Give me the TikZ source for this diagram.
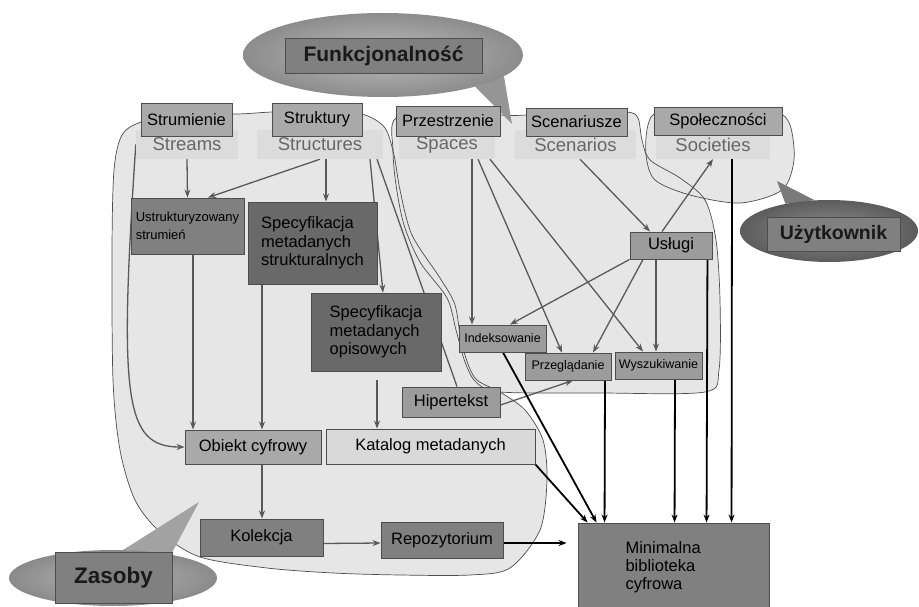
\documentclass[tikz,border=0pt]{standalone}
\usepackage{fontspec}
\setmainfont{Liberation Sans}
\usepackage{xcolor}
\definecolor{regionfill}{HTML}{E6E6E6}
\definecolor{tagfill}{HTML}{DCDCDC}
\definecolor{tagtext}{HTML}{666666}
\definecolor{edge}{HTML}{4D4D4D}
\definecolor{boxlight}{HTML}{A9A9A9}
\definecolor{boxsoft}{HTML}{9C9C9C}
\definecolor{boxmid}{HTML}{808080}
\definecolor{boxdark}{HTML}{696969}
\definecolor{boxpale}{HTML}{D9D9D9}
\definecolor{linkgray}{HTML}{595959}
\definecolor{funkin}{HTML}{BDBDBD}
\definecolor{funkout}{HTML}{8C8C8C}
\definecolor{funktail}{HTML}{959595}
\definecolor{uzytin}{HTML}{8E8E8E}
\definecolor{uzytout}{HTML}{5C5C5C}
\definecolor{uzyttail}{HTML}{7A7A7A}
\definecolor{zasin}{HTML}{B5B5B5}
\definecolor{zasout}{HTML}{8A8A8A}
\definecolor{zastail}{HTML}{A2A2A2}
\usepackage{tikz}
\usetikzlibrary{arrows.meta, shapes.geometric, backgrounds}

\begin{document}
\begin{tikzpicture}[x=1pt, y=-1pt, >={Stealth[length=8pt, width=6pt]},
    font=\fontsize{16.5}{18.5}\selectfont,
    box/.style={draw=edge, line width=0.9pt, inner sep=0pt, align=left},
    svc/.style={box, fill=boxsoft, minimum height=27pt, font=\fontsize{12.5}{15}\selectfont},
    tag/.style={fill=tagfill, text=tagtext, inner sep=0pt, minimum height=29pt,
                font=\fontsize{18.5}{20}\selectfont},
    blob/.style={draw=edge, line width=0.7pt},
    link/.style={->, draw=linkgray, line width=1.3pt},
    feed/.style={->, black, line width=1.8pt},
    bubble/.style={ellipse, inner sep=0pt},
    title/.style={box, fill=boxmid, text=black!90, font=\fontsize{21}{24}\bfseries\selectfont}]

  \useasboundingbox (0,0) rectangle (919,607);

  \node[tag, minimum width=102pt] (streams) at (187,144.5) {Streams};
  \node[tag, minimum width=126pt] (structs) at (320,144.5) {Structures};
  \node[tag, minimum width=96pt] (spaces) at (447,144.5) {Spaces};
  \node[tag, minimum width=121pt] (scens) at (575.5,144.5) {Scenarios};
  \node[tag, minimum width=114pt] (socs) at (713,144.5) {Societies};

  \node[box, fill=boxlight, minimum width=91pt, minimum height=33pt] (strum) at (186.5,119.5) {Strumienie};
  \node[box, fill=boxlight, minimum width=90pt, minimum height=33pt] (strukt) at (317,119.5) {Struktury};
  \node[box, fill=boxlight, minimum width=104pt, minimum height=30pt] (przes) at (448,121) {Przestrzenie};
  \node[box, fill=boxlight, minimum width=101pt, minimum height=28pt] (scen) at (576.5,122) {Scenariusze};
  \node[box, fill=boxlight, minimum width=128pt, minimum height=28pt] (spol) at (718,121) {Społeczności};

  \node[box, fill=boxmid, minimum width=113pt, minimum height=56pt,
        font=\fontsize{13}{18}\selectfont] (ustr) at (187.5,226) {Ustrukturyzowany\\strumień};
  \node[box, fill=boxdark, minimum width=129pt, minimum height=82pt] (specs) at (312.5,243)
        {Specyfikacja\\metadanych\\strukturalnych};
  \node[box, fill=boxdark, minimum width=130pt, minimum height=78pt] (speco) at (376,332)
        {Specyfikacja\\metadanych\\opisowych};
  \node[box, fill=boxsoft, minimum width=98pt, minimum height=30pt] (hiper) at (451,402) {Hipertekst};
  \node[box, fill=boxlight, minimum width=136pt, minimum height=34pt] (obiekt) at (253,447) {Obiekt cyfrowy};
  \node[box, fill=boxpale, minimum width=209pt, minimum height=35pt] (katalog) at (430.5,446.5) {Katalog metadanych};
  \node[box, fill=boxmid, minimum width=123pt, minimum height=37pt] (kolek) at (261.5,537.5) {Kolekcja};
  \node[box, fill=boxmid, minimum width=122pt, minimum height=36pt] (repo) at (442,540) {Repozytorium};

  \node[box, fill=boxsoft, minimum width=82pt, minimum height=27pt] (uslugi) at (671,245.5) {Usługi};
  \node[svc, minimum width=87pt] (indeks) at (502.5,338.5) {Indeksowanie};
  \node[svc, minimum width=86pt] (przeg) at (568,366.5) {Przeglądanie};
  \node[svc, minimum width=87pt] (wyszuk) at (658.5,365.5) {Wyszukiwanie};

  \node[box, fill=boxmid, minimum width=191pt, minimum height=89pt, text width=96pt,
        font=\fontsize{16.5}{18}\selectfont] (minbib) at (673.5,567.5) {Minimalna\\biblioteka\\cyfrowa};

  % callouts
  \node[bubble, shade, inner color=funkin, outer color=funkout,
        minimum width=280pt, minimum height=84pt] (funkE) at (383,55) {};
  \node[title, minimum width=197pt, minimum height=35pt] (funk) at (383.5,55.5) {Funkcjonalność};
  \coordinate (funktip) at (512,124);

  \node[bubble, shade, inner color=uzytin, outer color=uzytout,
        minimum width=178pt, minimum height=62pt] (uzytE) at (829,231) {};
  \node[title, minimum width=133pt, minimum height=34pt, font=\fontsize{19.5}{22}\bfseries\selectfont]
        (uzyt) at (833.5,234) {Użytkownik};
  \coordinate (uzyttip) at (777,181);

  \node[bubble, shade, inner color=zasin, outer color=zasout,
        minimum width=208pt, minimum height=56pt] (zasE) at (113,578) {};
  \node[title, minimum width=117pt, minimum height=51pt, font=\fontsize{22.5}{25}\bfseries\selectfont]
        (zas) at (113.5,577.5) {Zasoby};
  \coordinate (zastip) at (199,502);

  \begin{scope}[on background layer]
    \path[save path=\zasregion] plot[smooth cycle] coordinates {
      (186,110) (232,114) (272,112) (330,110) (365,115) (385,128) (394,155)
      (400,190) (412,235) (440,278) (455,305) (462,345) (475,378) (500,392)
      (525,410) (543,440) (547,480) (540,530) (510,568) (470,575) (400,575)
      (333,573) (267,568) (200,557) (160,532) (135,500) (120,450) (113,380)
      (112,250) (114,170) (122,135) (141,122)};
    \path[save path=\funkregion] plot[smooth cycle] coordinates {
      (448,110) (500,115) (526,115) (580,110) (627,112) (638,118) (642,140)
      (650,160) (680,178) (705,200) (716,240) (720,300) (719,370) (705,392)
      (600,393) (500,392) (476,382) (465,362) (456,330) (447,298) (420,262)
      (404,225) (396,185) (393,150) (396,118)};
    \path[save path=\uzytregion] plot[smooth cycle] coordinates {
      (720,112) (775,112) (790,125) (794,160) (782,190) (740,203) (690,195)
      (655,180) (646,155) (648,125) (660,112)};
    \fill[regionfill, use path=\zasregion];
    \fill[regionfill, use path=\funkregion];
    \fill[regionfill, use path=\uzytregion];
    \draw[blob, use path=\zasregion];
    \draw[blob, use path=\funkregion];
    \draw[blob, use path=\uzytregion];

    \fill[funktail] (funkE.-19) -- (funktip) -- (funkE.-10) -- cycle;
    \fill[uzyttail] (uzytE.148) -- (uzyttip) -- (uzytE.115) -- cycle;
    \fill[zastail] (zasE.70) -- (zastip) -- (zasE.22) -- cycle;

    \draw[link] (streams.south) -- (ustr.north);
    \draw[link] (structs.south) -- ([xshift=20.5pt]ustr.north);
    \draw[link] ([xshift=6pt]structs.south) -- ([xshift=13.5pt]specs.north);
    \draw[link] ([xshift=50pt]structs.south) -- ([xshift=7pt]speco.north);
    \draw[link, -] ([xshift=57pt]structs.south) -- ([xshift=6pt]hiper.north);
    \draw[link] (streams.west) .. controls +(-17,255) and +(-60,0) .. (obiekt.west);
    \draw[link] ([xshift=5.5pt]ustr.south) -- ([xshift=-60pt]obiekt.north);
    \draw[link] ([xshift=-50.5pt]specs.south) -- ([xshift=9pt]obiekt.north);
    \draw[link, shorten <=9pt] ([xshift=1pt]speco.south) -- ([xshift=-53.5pt]katalog.north);
    \draw[link] ([xshift=9pt]obiekt.south) -- ([xshift=0.5pt]kolek.north);
    \draw[link] ([yshift=-6pt]kolek.east) -- ([yshift=-3pt]repo.west);

    \draw[link] ([yshift=-3pt]hiper.east) -- ([xshift=5pt]przeg.south);
    \draw[link] ([xshift=25pt]spaces.south) -- ([xshift=-30.5pt]indeks.north);
    \draw[link] ([xshift=31pt]spaces.south) -- ([xshift=-6pt]przeg.north);
    \draw[link] ([xshift=43pt]spaces.south) -- ([xshift=-15.5pt]wyszuk.north);
    \draw[link] ([xshift=4.5pt]scens.south) -- ([xshift=-21pt]uslugi.north);
    \draw[link] ([xshift=-9pt]uslugi.north) -- (socs.south);
    \draw[link] (uslugi.south west) -- ([xshift=7.5pt]indeks.north);
    \draw[link] ([xshift=-28pt]uslugi.south) -- ([xshift=25pt]przeg.north);
    \draw[link] ([xshift=-15pt]uslugi.south) -- ([xshift=-2.5pt]wyszuk.north);

    \draw[feed, shorten >=11pt] ([yshift=-3pt]repo.east) -- ([yshift=24.5pt]minbib.west);
    \draw[feed] (katalog.south east) -- ([xshift=10pt]minbib.north west);
    \draw[feed] ([xshift=0.5pt]indeks.south) -- ([xshift=19pt]minbib.north west);
    \draw[feed] ([xshift=37pt]przeg.south) -- ([xshift=27pt]minbib.north west);
    \draw[feed] ([xshift=16.5pt]wyszuk.south) -- ([xshift=97pt]minbib.north west);
    \draw[feed] ([xshift=-5pt]uslugi.south east) -- ([xshift=129pt]minbib.north west);
    \draw[feed] ([xshift=19pt]socs.south) -- ([xshift=154pt]minbib.north west);
  \end{scope}
\end{tikzpicture}
\end{document}
